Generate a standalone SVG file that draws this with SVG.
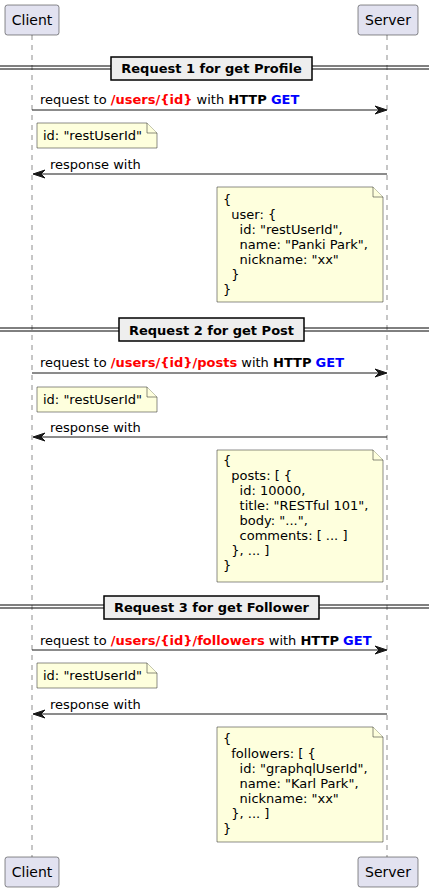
<svg xmlns="http://www.w3.org/2000/svg" width="429" height="893" viewBox="0 0 429 893">
<style>
text{font-family:"DejaVu Sans","Liberation Sans",sans-serif;font-size:13px;fill:#000}
.part rect{fill:#E2E2F0;stroke:#181818;stroke-width:0.5}
.part text{font-size:14px;text-anchor:middle}
.life{stroke:#181818;stroke-width:0.5;stroke-dasharray:5,5;fill:none}
.dl{stroke:#000;stroke-width:1}
.dbox{fill:#EEEEEE;stroke:#000;stroke-width:1.5}
.dtext{font-weight:bold;text-anchor:middle}
.msg{stroke:#181818;stroke-width:1;fill:none}
.head{fill:#181818;stroke:#181818;stroke-width:1}
.note path{fill:#FEFFDD;stroke:#181818;stroke-width:0.5}
.r{fill:#FF0000;font-weight:bold}
.b{font-weight:bold}
.g{fill:#0000FF;font-weight:bold}
</style>
<g id="lifelines">
<line class="life" x1="32" y1="35" x2="32" y2="857"/>
<line class="life" x1="387" y1="35" x2="387" y2="857"/>
</g>
<g id="client-top" class="part"><rect x="5" y="5" width="54" height="30" rx="2.5"/><text x="32" y="25">Client</text></g>
<g id="server-top" class="part"><rect x="358" y="5" width="60" height="30" rx="2.5"/><text x="388" y="25">Server</text></g>
<g id="client-bottom" class="part"><rect x="5" y="857" width="54" height="30" rx="2.5"/><text x="32" y="877">Client</text></g>
<g id="server-bottom" class="part"><rect x="358" y="857" width="60" height="30" rx="2.5"/><text x="388" y="877">Server</text></g>

<g id="divider1">
<line class="dl" x1="0" y1="66" x2="429" y2="66"/><line class="dl" x1="0" y1="69" x2="429" y2="69"/>
<rect class="dbox" x="111" y="57" width="201" height="23"/>
<text class="dtext" x="211.5" y="73">Request 1 for get Profile</text>
</g>
<g id="divider2">
<line class="dl" x1="0" y1="328" x2="429" y2="328"/><line class="dl" x1="0" y1="331" x2="429" y2="331"/>
<rect class="dbox" x="119" y="318" width="185" height="23"/>
<text class="dtext" x="211.5" y="335">Request 2 for get Post</text>
</g>
<g id="divider3">
<line class="dl" x1="0" y1="605" x2="429" y2="605"/><line class="dl" x1="0" y1="608" x2="429" y2="608"/>
<rect class="dbox" x="104" y="596" width="215" height="23"/>
<text class="dtext" x="211.5" y="612">Request 3 for get Follower</text>
</g>

<g id="connectors">
<line class="msg" x1="32" y1="110" x2="385" y2="110"/>
<polygon class="head" points="375,106 387,110 375,114 379,110"/>
<line class="msg" x1="34" y1="174" x2="387" y2="174"/>
<polygon class="head" points="45,170 33,174 45,178 41,174"/>
<line class="msg" x1="32" y1="373" x2="385" y2="373"/>
<polygon class="head" points="375,369 387,373 375,377 379,373"/>
<line class="msg" x1="34" y1="437" x2="387" y2="437"/>
<polygon class="head" points="45,433 33,437 45,441 41,437"/>
<line class="msg" x1="32" y1="650" x2="385" y2="650"/>
<polygon class="head" points="375,646 387,650 375,654 379,650"/>
<line class="msg" x1="34" y1="714" x2="387" y2="714"/>
<polygon class="head" points="45,710 33,714 45,718 41,714"/>
</g>

<g id="labels">
<text x="40" y="104">request to <tspan class="r">/users/{id}</tspan> with <tspan class="b">HTTP</tspan> <tspan class="g">GET</tspan></text>
<text x="50" y="169">response with</text>
<text x="40" y="367">request to <tspan class="r">/users/{id}/posts</tspan> with <tspan class="b">HTTP</tspan> <tspan class="g">GET</tspan></text>
<text x="50" y="432">response with</text>
<text x="40" y="645">request to <tspan class="r">/users/{id}/followers</tspan> with <tspan class="b">HTTP</tspan> <tspan class="g">GET</tspan></text>
<text x="50" y="709">response with</text>
</g>

<g id="note1" class="note">
<path d="M37,123 L37,148 L157,148 L157,133 L147,123 Z"/><path d="M147,123 L147,133 L157,133"/>
<text x="43" y="140">id: "restUserId"</text>
</g>
<g id="note2" class="note">
<path d="M217,187 L217,302 L383,302 L383,197 L373,187 Z"/><path d="M373,187 L373,197 L383,197"/>
<text x="223" y="204">{</text>
<text x="231.3" y="219">user: {</text>
<text x="239.6" y="234">id: "restUserId",</text>
<text x="239.6" y="249">name: "Panki Park",</text>
<text x="239.6" y="264">nickname: "xx"</text>
<text x="231.3" y="279">}</text>
<text x="223" y="294">}</text>
</g>
<g id="note3" class="note">
<path d="M37,387 L37,412 L157,412 L157,397 L147,387 Z"/><path d="M147,387 L147,397 L157,397"/>
<text x="43" y="404">id: "restUserId"</text>
</g>
<g id="note4" class="note">
<path d="M217,450 L217,582 L383,582 L383,460 L373,450 Z"/><path d="M373,450 L373,460 L383,460"/>
<text x="223" y="465">{</text>
<text x="231.3" y="480">posts: [ {</text>
<text x="239.6" y="495">id: 10000,</text>
<text x="239.6" y="510">title: "RESTful 101",</text>
<text x="239.6" y="525">body: "...",</text>
<text x="239.6" y="540">comments: [ ... ]</text>
<text x="231.3" y="555">}, ... ]</text>
<text x="223" y="570">}</text>
</g>
<g id="note5" class="note">
<path d="M37,663 L37,688 L157,688 L157,673 L147,663 Z"/><path d="M147,663 L147,673 L157,673"/>
<text x="43" y="680">id: "restUserId"</text>
</g>
<g id="note6" class="note">
<path d="M217,727 L217,842 L383,842 L383,737 L373,727 Z"/><path d="M373,727 L373,737 L383,737"/>
<text x="223" y="743">{</text>
<text x="231.3" y="758">followers: [ {</text>
<text x="239.6" y="773">id: "graphqlUserId",</text>
<text x="239.6" y="788">name: "Karl Park",</text>
<text x="239.6" y="803">nickname: "xx"</text>
<text x="231.3" y="818">}, ... ]</text>
<text x="223" y="833">}</text>
</g>
</svg>
